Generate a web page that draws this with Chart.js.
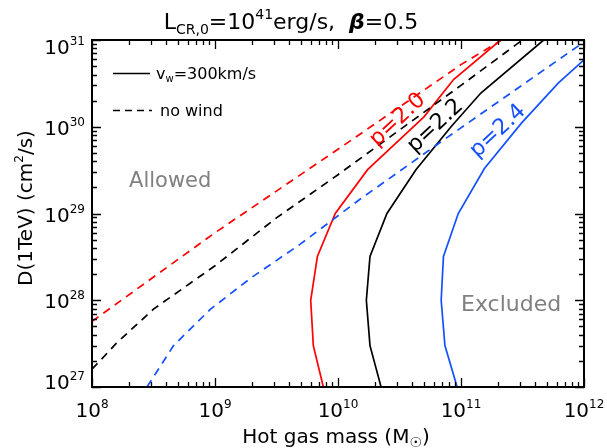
<!DOCTYPE html>
<html lang="en">
<head>
  <meta charset="UTF-8">
  <title>D(1TeV) vs hot gas mass</title>
  <script src="https://cdn.jsdelivr.net/npm/chart.js"></script>
  <style>
    body { margin: 0; background: #fff; }
    .wrap { position: relative; width: 607px; height: 448px; }
  </style>
</head>
<body>
  <div class="wrap"><canvas id="chart"></canvas></div>
  <script>
    // x = hot gas mass (Msun), y = D(1TeV) (cm^2/s)
    // no wind (dashed)
    const massNoWind20 = [1e8, 1e9, 1e10, 1e11, 2.14e11];
    const diffNoWind20 = [5.7e27, 6.0e28, 5.5e29, 5.2e30, 1e31];
    const massNoWind22 = [1e8, 1.58e8, 3.16e8, 1e9, 3.16e9, 1e10, 1e11, 3.16e11];
    const diffNoWind22 = [1.6e27, 3.2e27, 7.9e27, 2.5e28, 8.9e28, 2.8e29, 3.0e30, 1e31];
    const massNoWind24 = [2.8e8, 4.6e8, 9.1e8, 1.95e9, 4.9e9, 1.5e10, 7.8e10, 1e12];
    const diffNoWind24 = [1e27, 3.0e27, 7.8e27, 1.8e28, 4.4e28, 1.45e29, 7.6e29, 9.5e30];
    // v_w = 300 km/s (solid)
    const massWind20 = [7.6e9, 6.3e9, 6.0e9, 6.8e9, 9.5e9, 1.74e10, 5.0e10, 8.7e10, 2.1e11];
    const diffWind20 = [1e27, 3e27, 1e28, 3.2e28, 1e29, 3.2e29, 1.3e30, 3.5e30, 1e31];
    const massWind22 = [2.24e10, 1.82e10, 1.7e10, 1.82e10, 2.5e10, 4.3e10, 8.3e10, 1.45e11, 4.7e11];
    const diffWind22 = [1e27, 3e27, 1e28, 3.2e28, 1e29, 3.2e29, 1e30, 2.45e30, 1e31];
    const massWind24 = [9.3e10, 7.4e10, 6.9e10, 7.2e10, 9.5e10, 1.55e11, 3.1e11, 6.2e11, 1e12];
    const diffWind24 = [1e27, 3e27, 1e28, 3.2e28, 1e29, 3.3e29, 1.1e30, 3.2e30, 5.9e30];

    const xDecades = [8, 9, 10, 11, 12];
    const yDecades = [27, 28, 29, 30, 31];

    const FONT = '"DejaVu Sans", sans-serif';
    const RED = '#ff0000', BLACK = '#000000', BLUE = '#1450ff';

    const pts = (xs, ys) => xs.map((x, i) => ({ x: x, y: ys[i] }));
    const line = (xs, ys, color, dashed) => ({
      data: pts(xs, ys),
      borderColor: color,
      borderWidth: 1.7,
      borderDash: dashed ? [8, 6] : [],
      pointRadius: 0,
      showLine: true,
      fill: false,
      tension: 0
    });

    // draw a run of text pieces: [text, sizeScale, baselineShift, style]
    function rich(ctx, parts, x, y, size, align) {
      let total = 0;
      const widths = parts.map(p => {
        ctx.font = (p[3] || '') + ' ' + Math.round(size * p[1]) + 'px ' + FONT;
        const w = ctx.measureText(p[0]).width;
        total += w;
        return w;
      });
      let cx = align === 'center' ? x - total / 2 : align === 'right' ? x - total : x;
      ctx.textAlign = 'left';
      ctx.textBaseline = 'alphabetic';
      parts.forEach((p, i) => {
        ctx.font = (p[3] || '') + ' ' + Math.round(size * p[1]) + 'px ' + FONT;
        ctx.fillText(p[0], cx, y + p[2] * size);
        cx += widths[i];
      });
    }

    const frame = {
      id: 'frame',
      afterDatasetsDraw(chart) {
        const ctx = chart.ctx;
        const a = chart.chartArea;
        const xs = chart.scales.x, ys = chart.scales.y;
        ctx.save();
        ctx.fillStyle = '#000';
        ctx.strokeStyle = '#000';

        // box
        ctx.lineWidth = 2;
        ctx.strokeRect(a.left, a.top, a.right - a.left, a.bottom - a.top);

        // ticks on all four sides
        ctx.lineWidth = 1.3;
        ctx.beginPath();
        xDecades.forEach(d => {
          for (let m = 1; m <= 9; m++) {
            const v = m * Math.pow(10, d);
            if (v > xs.max * 1.0001) break;
            const px = Math.round(xs.getPixelForValue(v)) + 0.5;
            const len = m === 1 ? 9 : 5;
            ctx.moveTo(px, a.bottom); ctx.lineTo(px, a.bottom - len);
            ctx.moveTo(px, a.top); ctx.lineTo(px, a.top + len);
          }
        });
        yDecades.forEach(d => {
          for (let m = 1; m <= 9; m++) {
            const v = m * Math.pow(10, d);
            if (v > ys.max * 1.0001) break;
            const py = Math.round(ys.getPixelForValue(v)) + 0.5;
            const len = m === 1 ? 9 : 5;
            ctx.moveTo(a.left, py); ctx.lineTo(a.left + len, py);
            ctx.moveTo(a.right, py); ctx.lineTo(a.right - len, py);
          }
        });
        ctx.stroke();

        // tick labels
        xDecades.forEach(d => {
          const px = xs.getPixelForValue(Math.pow(10, d));
          rich(ctx, [['10', 1, 0], [String(d), 0.6, -0.45]], px, a.bottom + 30, 20, 'center');
        });
        yDecades.forEach((d, i) => {
          const py = ys.getPixelForValue(Math.pow(10, d));
          let shift = 8;
          if (i === 0) shift = 2;
          if (i === yDecades.length - 1) shift = 14;
          rich(ctx, [['10', 1, 0], [String(d), 0.6, -0.45]], a.left - 7, py + shift, 20, 'right');
        });

        // title
        rich(ctx, [['L', 1, 0], ['CR,0', 0.62, 0.22], ['=10', 1, 0], ['41', 0.62, -0.45],
                   ['erg/s,  ', 1, 0], ['\u03b2', 1, 0, 'italic bold'], ['=0.5', 1, 0]],
             291, 29, 22, 'center');

        // axis titles
        rich(ctx, [['Hot gas mass (M', 1, 0], ['\u2609', 0.7, 0.2], [')', 1, 0]],
             336, 443, 20, 'center');
        ctx.save();
        ctx.translate(32, 208);
        ctx.rotate(-Math.PI / 2);
        rich(ctx, [['D(1TeV) (cm', 1, 0], ['2', 0.6, -0.45], ['/s)', 1, 0]], 0, 0, 19.5, 'center');
        ctx.restore();

        // legend
        ctx.lineWidth = 1.3;
        ctx.beginPath();
        ctx.moveTo(113, 73.5); ctx.lineTo(150, 73.5);
        ctx.stroke();
        ctx.setLineDash([7, 5]);
        ctx.beginPath();
        ctx.moveTo(113, 110.5); ctx.lineTo(152, 110.5);
        ctx.stroke();
        ctx.setLineDash([]);
        rich(ctx, [['v', 1, 0], ['w', 0.6, 0.2], ['=300km/s', 1, 0]], 156, 79, 16, 'left');
        rich(ctx, [['no wind', 1, 0]], 160, 116, 16, 'left');

        // region labels
        ctx.fillStyle = '#808080';
        rich(ctx, [['Allowed', 1, 0]], xs.getPixelForValue(2.0e8), ys.getPixelForValue(2.0e29), 21, 'left');
        rich(ctx, [['Excluded', 1, 0]], xs.getPixelForValue(1.0e11), ys.getPixelForValue(7.5e27), 22, 'left');

        // curve labels
        const tags = [['p=2.0', RED, 3.06e10, 1.2e30], ['p=2.2', BLACK, 6.2e10, 1.02e30], ['p=2.4', BLUE, 2.0e11, 8.9e29]];
        tags.forEach(t => {
          ctx.save();
          ctx.translate(xs.getPixelForValue(t[2]), ys.getPixelForValue(t[3]));
          ctx.rotate(-43 * Math.PI / 180);
          ctx.fillStyle = t[1];
          ctx.font = '22px ' + FONT;
          ctx.textAlign = 'center';
          ctx.textBaseline = 'middle';
          ctx.fillText(t[0], 0, 0);
          ctx.restore();
        });
        ctx.restore();
      }
    };

    new Chart(document.getElementById('chart'), {
      type: 'scatter',
      data: {
        datasets: [
          line(massNoWind20, diffNoWind20, RED, true),
          line(massNoWind22, diffNoWind22, BLACK, true),
          line(massNoWind24, diffNoWind24, BLUE, true),
          line(massWind20, diffWind20, RED, false),
          line(massWind22, diffWind22, BLACK, false),
          line(massWind24, diffWind24, BLUE, false)
        ]
      },
      options: {
        responsive: true,
        maintainAspectRatio: false,
        animation: false,
        layout: { padding: { left: 92, right: 23, top: 40, bottom: 61 } },
        scales: {
          x: { type: 'logarithmic', min: 1e8, max: 1e12, display: false },
          y: { type: 'logarithmic', min: 1e27, max: 1e31, display: false }
        },
        plugins: {
          legend: { display: false },
          tooltip: { enabled: false }
        }
      },
      plugins: [frame]
    });
  </script>
</body>
</html>
